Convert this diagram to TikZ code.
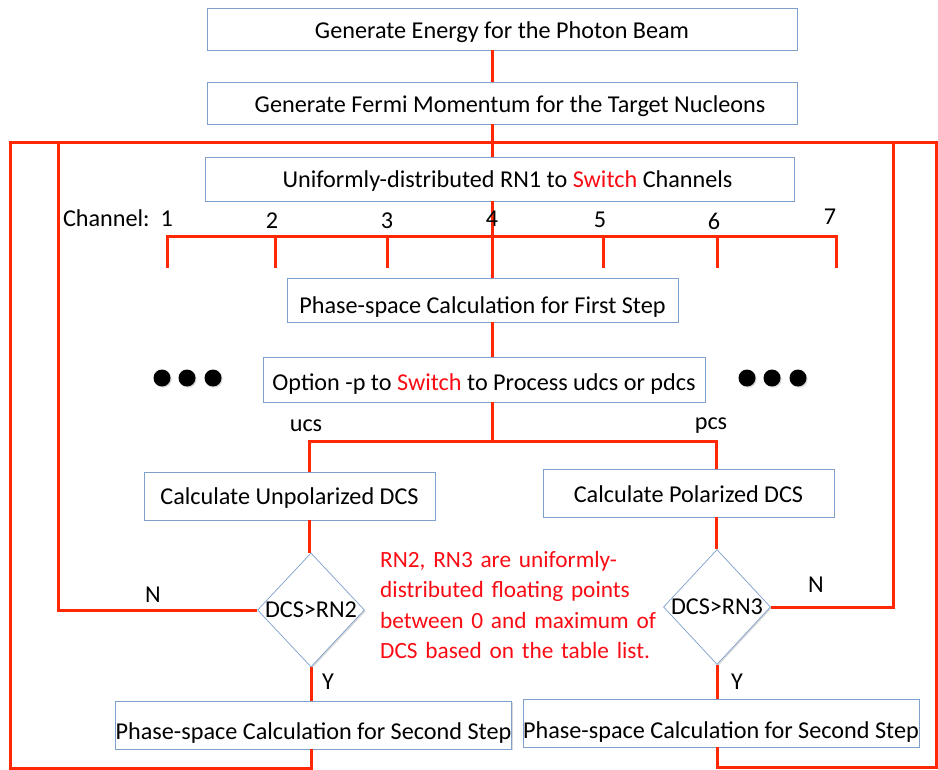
\documentclass[tikz,border=0pt]{standalone}
\usepackage{fontspec}
\setmainfont{Carlito}
\usetikzlibrary{shapes.geometric,shadows}
\definecolor{boxblue}{RGB}{125,160,205}
\definecolor{lred}{RGB}{255,40,5}
\definecolor{tred}{RGB}{250,12,20}
\newcommand{\sw}{{\color{tred}Switch}}
\begin{document}
\begin{tikzpicture}[x=1pt,y=-1pt,
  txt/.style={font=\fontsize{24.2}{28}\selectfont, inner sep=0pt},
  box/.style={txt, text depth=6pt, draw=boxblue, fill=white, line width=0.7pt,
    drop shadow={shadow xshift=1.3pt, shadow yshift=-1.3pt, opacity=0.3, fill=gray}},
  dia/.style={diamond, draw=boxblue, fill=white, line width=0.7pt, inner sep=0pt,
    drop shadow={shadow xshift=1.3pt, shadow yshift=-1.3pt, opacity=0.3, fill=gray}},
  rl/.style={draw=lred, line width=3pt, line join=miter},
  dot/.style={circle, fill=black, inner sep=0pt, minimum size=17pt,
    drop shadow={shadow xshift=1.2pt, shadow yshift=-1.2pt, opacity=0.3, fill=gray}}
]
\useasboundingbox (0,0) rectangle (938,770);
% coordinates
\coordinate (mx) at (492,0);
\coordinate (tl) at (10,143);
\coordinate (tr) at (936,143);
\coordinate (ilt) at (58,143);
\coordinate (irt) at (893,143);
\coordinate (spl) at (309,441);
\coordinate (spr) at (716,441);
\coordinate (spm) at (492,441);
\coordinate (cb1) at (167,237);
\coordinate (cb7) at (836,237);
\coordinate (bl) at (10,768);
\coordinate (br) at (936,767);

% boxes
\node[box, text height=26pt, minimum width=590, minimum height=42] (b1) at (502,29) {Generate Energy for the Photon Beam};
\node[box, text height=25pt, minimum width=590, minimum height=42] (b2) at (502,103) {\hspace{16pt}Generate Fermi Momentum for the Target Nucleons};
\node[box, text height=24pt, minimum width=589, minimum height=44] (b3) at (499.5,179) {\hspace{16pt}Uniformly-distributed RN1 to \sw{} Channels};
\node[box, text height=34pt, minimum width=391, minimum height=44] (b4) at (482.5,300) {Phase-space Calculation for First Step};
\node[box, text height=28pt, minimum width=442, minimum height=45] (b5) at (484,379.5) {Option -p to \sw{} to Process udcs or pdcs};
\node[box, text height=22pt, minimum width=291, minimum height=48] (b6) at (289.5,496) {Calculate Unpolarized DCS};
\node[box, text height=24pt, minimum width=291, minimum height=48] (b7) at (688.5,493) {Calculate Polarized DCS};
\node[box, text height=34pt, minimum width=391, minimum height=48] (b8) at (313.5,725) {Phase-space Calculation for Second Step};
\node[box, text height=36pt, minimum width=392, minimum height=48] (b9) at (721,723) {Phase-space Calculation for Second Step};

% diamonds
\node[dia, minimum width=107, minimum height=114] (d1) at (311,610) {};
\node[txt] (d1t) at (d1.center) {DCS>RN2};
\node[dia, minimum width=107, minimum height=115] (d2) at (717,607) {};
\node[txt] (d2t) at (d2.center) {DCS>RN3};

% main stem
\draw[rl] (b1.south -| mx) -- (b2.north -| mx);
\draw[rl] (b2.south -| mx) -- (b3.north -| mx);
\draw[rl] (b3.south -| mx) -- (b4.north -| mx);
\draw[rl] (b4.south -| mx) -- (b5.north -| mx);
\draw[rl] (b5.south -| mx) -- (spm);

% channel bar
\draw[rl] (167,268) -- (cb1) -- (cb7) -- (836,268);
\coordinate (t2) at (275,268);
\coordinate (t3) at (387,268);
\coordinate (t5) at (603,268);
\coordinate (t6) at (717,268);
\draw[rl] (t2) -- (t2 |- cb1);
\draw[rl] (t3) -- (t3 |- cb1);
\draw[rl] (t5) -- (t5 |- cb1);
\draw[rl] (t6) -- (t6 |- cb1);

% split
\draw[rl] (b6.north -| spl) -- (spl) -- (spr) -- (b7.north -| spr);
\draw[rl] (b6.south -| spl) -- (d1.north -| spl);
\draw[rl] (b7.south -| spr) -- (d2.north -| spr);
\draw[rl] (d1.south) -- (b8.north -| d1.south);
\draw[rl] (d2.south) -- (b9.north -| d2.south);

% loops
\draw[rl] (b8.south -| d1.south) |- (bl) -- (tl) -- (tr) -- (br) -| (b9.south -| d2.south);
\draw[rl] (d1.west) -| (ilt);
\draw[rl] (d2.east) -| (irt);

% labels
\node[txt] (chl) at (118,218) {Channel:\ \ 1};
\node[txt] (c2) at (272,221) {2};
\node[txt] (c3) at (387,221) {3};
\node[txt] (c4) at (492,219) {4};
\node[txt] (c5) at (600,220) {5};
\node[txt] (c6) at (714,221) {6};
\node[txt] (c7) at (830,217) {7};
\node[txt] (ucs) at (306,426) {ucs};
\node[txt] (pcs) at (711,426) {pcs};
\node[txt] (n1) at (153,595) {N};
\node[txt] (n2) at (816,585) {N};
\node[txt] (y1) at (328,682) {Y};
\node[txt] (y2) at (737,682) {Y};

% dots
\foreach \x/\n in {162/a,187/b,213/c}{\node[dot] (dl\n) at (\x,378) {};}
\foreach \x/\n in {747/a,772/b,798/c}{\node[dot] (dr\n) at (\x,378) {};}

% note
\node[txt, text=tred, anchor=north west, text width=278pt, align=left,
  font=\fontsize{23.3}{30.5}\selectfont] (note) at (380,551)
  {\makebox[\linewidth][s]{RN2, RN3 are uniformly-}\\
   \makebox[\linewidth][s]{distributed floating points}\\
   \makebox[\linewidth][s]{between 0 and maximum of}\\
   \mbox{DCS based on the table list.}};
\end{tikzpicture}
\end{document}
